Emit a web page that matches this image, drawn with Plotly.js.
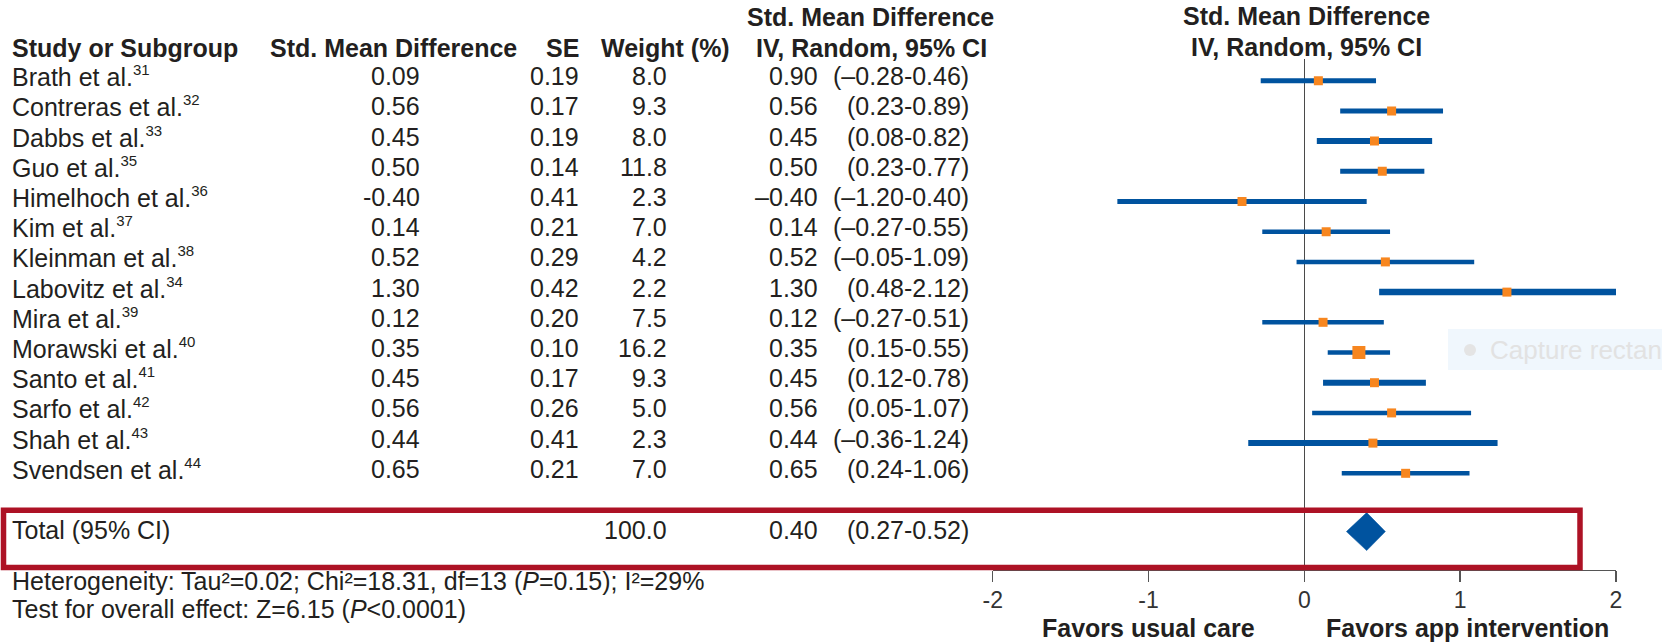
<!DOCTYPE html>
<html>
<head>
<meta charset="utf-8">
<script src="https://cdn.plot.ly/plotly-3.0.1.min.js"></script>
<style>
  html, body { margin: 0; padding: 0; background: #ffffff; }
  #chart { width: 1662px; height: 643px; }
</style>
</head>
<body>
<div id="chart"></div>
<script>
// ---------------- data ----------------
const studies = ['Brath et al.', 'Contreras et al.', 'Dabbs et al.', 'Guo et al.', 'Himelhoch et al.',
  'Kim et al.', 'Kleinman et al.', 'Labovitz et al.', 'Mira et al.', 'Morawski et al.',
  'Santo et al.', 'Sarfo et al.', 'Shah et al.', 'Svendsen et al.'];
const refs = ['31', '32', '33', '35', '36', '37', '38', '34', '39', '40', '41', '42', '43', '44'];
const smd = [0.09, 0.56, 0.45, 0.50, -0.40, 0.14, 0.52, 1.30, 0.12, 0.35, 0.45, 0.56, 0.44, 0.65];
const se = [0.19, 0.17, 0.19, 0.14, 0.41, 0.21, 0.29, 0.42, 0.20, 0.10, 0.17, 0.26, 0.41, 0.21];
const weight = [8.0, 9.3, 8.0, 11.8, 2.3, 7.0, 4.2, 2.2, 7.5, 16.2, 9.3, 5.0, 2.3, 7.0];
const ciEst = [0.90, 0.56, 0.45, 0.50, -0.40, 0.14, 0.52, 1.30, 0.12, 0.35, 0.45, 0.56, 0.44, 0.65];
const ciLo = [-0.28, 0.23, 0.08, 0.23, -1.20, -0.27, -0.05, 0.48, -0.27, 0.15, 0.12, 0.05, -0.36, 0.24];
const ciHi = [0.46, 0.89, 0.82, 0.77, 0.40, 0.55, 1.09, 2.12, 0.51, 0.55, 0.78, 1.07, 1.24, 1.06];
const totalLabel = 'Total (95% CI)';
const totalWeight = [100.0];
const totalEst = [0.40];
const totalLo = [0.27];
const totalHi = [0.52];
const tickVals = [-2, -1, 0, 1, 2];
const tickText = ['-2', '-1', '0', '1', '2'];
const heterogeneityText = 'Heterogeneity: Tau²=0.02; Chi²=18.31, df=13 (<i>P</i>=0.15); I²=29%';
const overallText = 'Test for overall effect: Z=6.15 (<i>P</i><0.0001)';

// ---------------- styles ----------------
const lineWidths = [5, 5, 6, 5, 5, 4.5, 4.5, 6.5, 4.5, 4.5, 6, 4.5, 6, 4.5];
const markerSizes = [9, 9, 9, 9, 9, 9, 9, 9, 9, 13, 9, 9, 9, 9];
const BLUE = '#00539F';
const ORANGE = '#F7861F';
const RED = '#AD1225';
const TXT = '#231F20';
const FONT = 'Liberation Sans, Arial, Helvetica, sans-serif';
const W = 1662, H = 643;
const px = v => v / W;
const py = v => 1 - v / H;

const fmtCI = v => (v < 0 ? '\u2013' + Math.abs(v).toFixed(2) : v.toFixed(2));
const totalRow = studies.length + 0.93;   // row position of the total diamond
const diamondHalf = 0.63;                 // half height of the diamond (rows)

// ---------------- traces ----------------
const traces = [];
studies.forEach((s, i) => {
  traces.push({
    type: 'scatter', mode: 'lines', x: [ciLo[i], ciHi[i]], y: [i, i],
    line: { color: BLUE, width: lineWidths[i] }, hoverinfo: 'skip', showlegend: false
  });
});
traces.push({
  type: 'scatter', mode: 'markers', x: smd, y: studies.map((s, i) => i),
  marker: { symbol: 'square', color: ORANGE, size: markerSizes, opacity: 1, line: { width: 0 } },
  hoverinfo: 'skip', showlegend: false
});
traces.push({
  type: 'scatter', mode: 'lines', fill: 'toself', fillcolor: BLUE,
  x: [totalLo[0], totalEst[0], totalHi[0], totalEst[0], totalLo[0]],
  y: [totalRow, totalRow - diamondHalf, totalRow, totalRow + diamondHalf, totalRow],
  line: { color: BLUE, width: 0.5 }, hoverinfo: 'skip', showlegend: false
});

// ---------------- annotations ----------------
const ann = [];
function txt(text, x, xanchor, y, opts) {
  opts = opts || {};
  const a = {
    text: text, x: px(x), xref: 'paper', xanchor: xanchor,
    showarrow: false, borderpad: 0,
    font: { family: FONT, size: opts.size || 25, color: opts.color || TXT }
  };
  if (opts.yref === 'y') { a.yref = 'y'; a.y = y; a.yshift = opts.yshift || 0; }
  else { a.yref = 'paper'; a.y = py(y); }
  a.yanchor = 'middle';
  ann.push(a);
}
// headers
txt('<b>Study or Subgroup</b>', 11, 'left', 48.5);
txt('<b>Std. Mean Difference</b>', 518, 'right', 48.5);
txt('<b>SE</b>', 580, 'right', 48.5);
txt('<b>Weight (%)</b>', 731, 'right', 48.5);
txt('<b>Std. Mean Difference</b>', 995, 'right', 17.5);
txt('<b>IV, Random, 95% CI</b>', 988, 'right', 48.5);
txt('<b>Std. Mean Difference</b>', 1306, 'center', 16.5);
txt('<b>IV, Random, 95% CI</b>', 1306, 'center', 46.5);

// study rows
const ROWSHIFT = 4.5;
studies.forEach((s, i) => {
  const o = { yref: 'y', yshift: ROWSHIFT };
  txt(s + '<sup><span style="font-size:15px">' + refs[i] + '</span></sup>', 11, 'left', i, o);
  txt(smd[i].toFixed(2), 421, 'right', i, o);
  txt(se[i].toFixed(2), 580, 'right', i, o);
  txt(weight[i].toFixed(1), 668, 'right', i, o);
  txt(fmtCI(ciEst[i]), 819, 'right', i, o);
  txt('(' + fmtCI(ciLo[i]) + '-' + fmtCI(ciHi[i]) + ')', 970, 'right', i, o);
});
// total row
const to = { yref: 'y', yshift: 1.5 };
txt(totalLabel, 11, 'left', totalRow, to);
txt(totalWeight[0].toFixed(1), 668, 'right', totalRow, to);
txt(fmtCI(totalEst[0]), 819, 'right', totalRow, to);
txt('(' + fmtCI(totalLo[0]) + '-' + fmtCI(totalHi[0]) + ')', 970, 'right', totalRow, to);

// footers
txt(heterogeneityText, 11, 'left', 581);
txt(overallText, 11, 'left', 609);
txt('<b>Favors usual care</b>', 1148, 'center', 628);
txt('<b>Favors app intervention</b>', 1467, 'center', 628);

// capture overlay text (clipped at the right edge, as in the reference)
txt('Capture rectangle', 1489, 'left', 350, { size: 26, color: '#E2E2E2' });

// ---------------- layout ----------------
const layout = {
  width: W, height: H,
  margin: { l: 0, r: 0, t: 0, b: 0, pad: 0 },
  paper_bgcolor: '#ffffff', plot_bgcolor: 'rgba(0,0,0,0)',
  showlegend: false,
  xaxis: {
    domain: [992.7 / W, 1616 / W], range: [-2, 2], anchor: 'y',
    showgrid: false, zeroline: true, zerolinecolor: '#4a4a4a', zerolinewidth: 1.5,
    showline: true, linecolor: '#555555', linewidth: 1.5,
    ticks: 'outside', ticklen: 11, tickwidth: 1.5, tickcolor: '#555555',
    tickmode: 'array', tickvals: tickVals, ticktext: tickText,
    tickfont: { family: FONT, size: 23, color: '#333333' },
    ticklabelstandoff: -2,
    fixedrange: true
  },
  yaxis: {
    domain: [1 - 569.5 / H, 1 - 59.3 / H],
    range: [16.185, -0.709], visible: false, fixedrange: true
  },
  annotations: ann,
  shapes: [
    { type: 'rect', xref: 'paper', yref: 'paper', x0: px(3.5), x1: px(1580), y0: py(567.5), y1: py(510.3),
      line: { color: RED, width: 5.5 }, fillcolor: 'rgba(0,0,0,0)', layer: 'above' },
    { type: 'rect', xref: 'paper', yref: 'paper', x0: px(1448), x1: px(1670), y0: py(370), y1: py(329),
      line: { width: 0 }, fillcolor: 'rgba(228,240,252,0.55)', layer: 'below' },
    { type: 'circle', xref: 'paper', yref: 'paper', x0: px(1464), x1: px(1476), y0: py(356), y1: py(344),
      line: { width: 0 }, fillcolor: '#E4E4E4', layer: 'below' }
  ]
};

Plotly.newPlot('chart', traces, layout, { displayModeBar: false, staticPlot: true });
</script>
</body>
</html>
